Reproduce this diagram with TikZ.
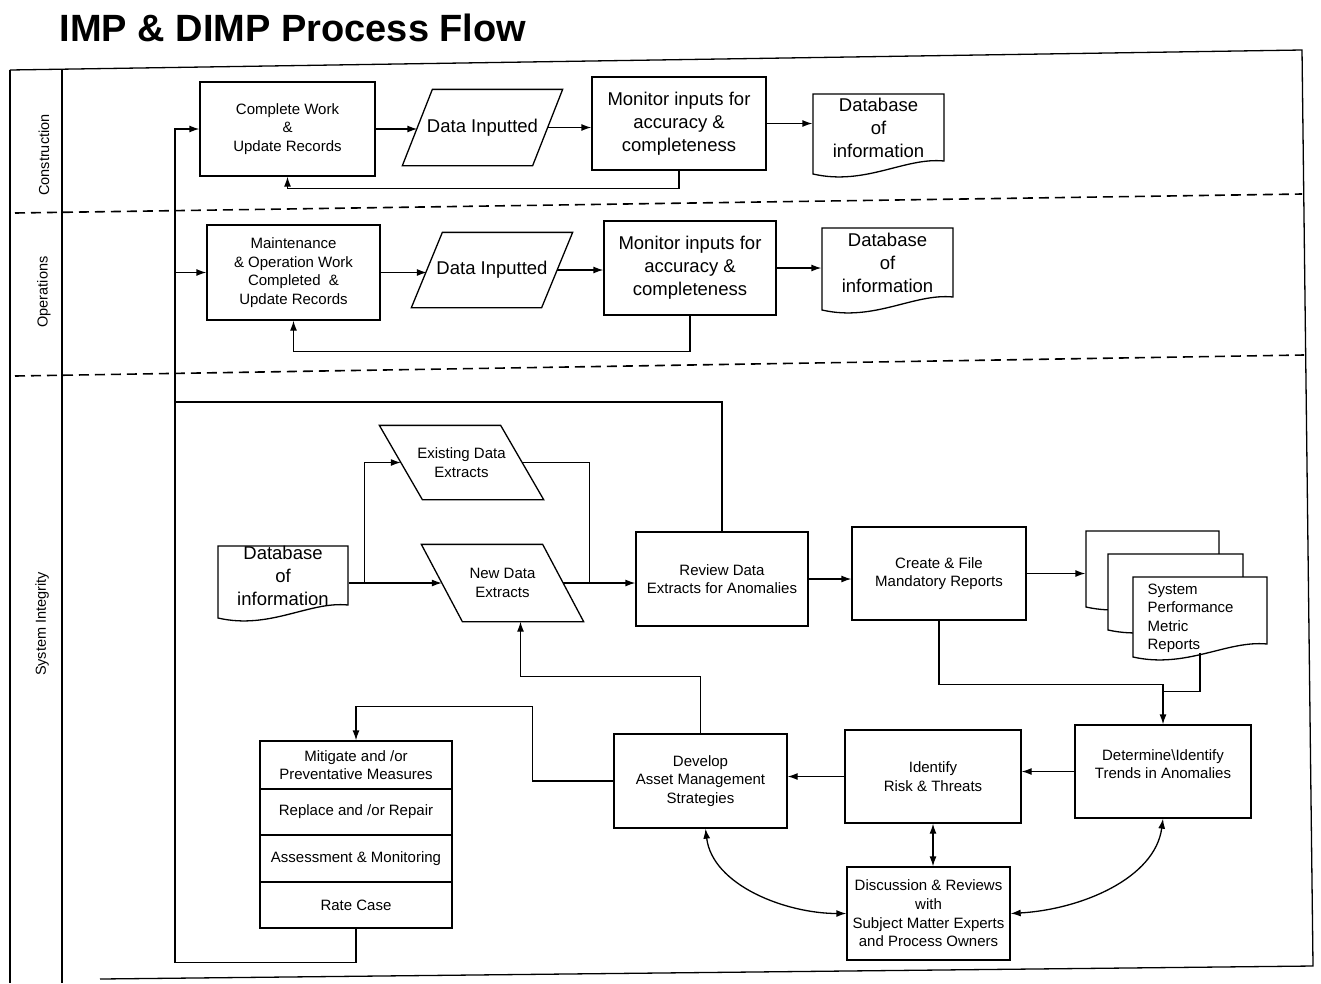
\documentclass[tikz,border=0pt]{standalone}
\usepackage{fontspec}
\setmainfont{Liberation Sans}
\usetikzlibrary{arrows.meta,calc}

% style, name, L, T, R, B, text
\newcommand\bx[7]{%
  \node[#1, minimum width={(#5-#3)*1pt}, minimum height={(#6-#4)*1pt}]
     (#2) at ({(#3+#5)/2},{(#4+#6)/2}) {#7};}
\newcommand\paraShape[2]{%
  \draw ($(#1.north west)+(#2,0)$) -- ($(#1.north east)+(#2,0)$) --
        ($(#1.south east)+({-1*(#2)},0)$) -- ($(#1.south west)+({-1*(#2)},0)$) -- cycle;}
% L T R B name style text
\newcommand\docShape[7]{%
  \draw[fill=white] (#1,#4) -- (#1,#2) -- (#3,#2) -- (#3,{#4-13})
     .. controls ({#3-0.3*(#3-#1)},{#4-17}) and ({#1+0.4*(#3-#1)},{#4+12}) .. (#1,#4) -- cycle;
  \bx{#6}{#5}{#1}{#2}{#3}{#4-12}{#7}}

\begin{document}
\begin{tikzpicture}[x=1pt,y=-1pt,line width=1.3pt,
  small/.style={font=\fontsize{15}{18.6}\selectfont},
  big/.style={font=\fontsize{18.5}{23}\selectfont},
  box/.style={draw, inner sep=0pt, align=center, small},
  bigbox/.style={box, big},
  ghost/.style={inner sep=0pt, align=center, small},
  bigghost/.style={ghost, big},
  arr/.style={-{Latex[length=10pt,width=7pt]}},
  dbl/.style={{Latex[length=10pt,width=7pt]}-{Latex[length=10pt,width=7pt]}},
  lanesep/.style={dash pattern=on 10pt off 6pt, line width=1.6pt},
  lanelbl/.style={rotate=90, inner sep=0pt, font=\fontsize{14.5}{17}\selectfont},
]
\useasboundingbox (0,0) rectangle (1321,983);

% title
\node[anchor=base west, inner sep=0pt, font=\bfseries\fontsize{38}{40}\selectfont] (title) at (59,41) {IMP \& DIMP Process Flow};

% frame and lanes
\draw (10,70) -- (1302,50) -- (1313,966) -- (100,979);
\draw (10,70) -- (10,983);
\draw (62,69) -- (62,983);
\draw[lanesep] (15,213) -- (1302,194);
\draw[lanesep] (15,376) -- (1304,355);
\node[lanelbl] (lc) at (44,155) {Construction};
\node[lanelbl] (lo) at (44,292) {Operations};
\node[lanelbl] (ls) at (42,624) {System Integrity};

% ---------------- Construction
\bx{box}{cw}{200}{82}{375}{176}{Complete Work\\\&\\Update Records}
\bx{bigghost}{di1}{418}{90}{547}{165}{Data Inputted}
\paraShape{di1}{15}
\bx{bigbox}{mon1}{592}{77}{766}{170}{Monitor inputs for\\accuracy \&\\completeness}
\docShape{813}{94}{944}{174}{db1}{bigghost}{Database\\of\\information}

\draw[arr] (cw.east) -- (cw.east -| di1.west);
\draw[arr] (di1.east) -- (di1.east -| mon1.west);
\draw[arr] (mon1.east) -- (mon1.east -| db1.west);
\draw[arr] (mon1.south) -- ++(0,18) -| (cw.south);

% ---------------- Operations
\bx{box}{mb}{207}{225}{380}{320}{Maintenance\\\& Operation Work\\Completed~~\&\\Update Records}
\bx{bigghost}{di2}{427.5}{233}{556.5}{307}{Data Inputted}
\paraShape{di2}{15.5}
\bx{bigbox}{mon2}{604}{221}{776}{315}{Monitor inputs for\\accuracy \&\\completeness}
\docShape{822}{228}{953}{310}{db2}{bigghost}{Database\\of\\information}

\draw[arr] (mb.east) -- (mb.east -| di2.west);
\draw[arr] (di2.east) -- (di2.east -| mon2.west);
\draw[arr] (mon2.east) -- (mon2.east -| db2.west);
\draw[arr] (mon2.south) -- ++(0,36) -| (mb.south);

% ---------------- System Integrity
\docShape{218}{546}{348}{618}{db3}{bigghost}{Database\\of\\information}
\bx{ghost}{ede}{401.5}{426}{521.5}{499}{Existing Data\\Extracts}
\paraShape{ede}{-21.5}
\bx{ghost}{nde}{442.5}{545}{562.5}{621}{New Data\\Extracts}
\paraShape{nde}{-20.5}
\bx{box}{rev}{636}{532}{808}{626}{Review Data\\Extracts for Anomalies}
\bx{box}{cf}{852}{527}{1026}{620}{Create \& File\\Mandatory Reports}
\docShape{1086}{531}{1219}{607}{rep1}{ghost}{}
\docShape{1108}{554}{1243}{630}{rep2}{ghost}{}
\docShape{1133}{577}{1267}{657}{rep3}{ghost}{}
\node[anchor=north west, align=left, inner sep=0pt, small] (rept) at (1147,583) {System\\Performance\\Metric\\Reports};

\bx{box}{det}{1075}{725}{1251}{818}{}
\node[ghost] (dett) at (1163,764) {Determine\textbackslash Identify\\Trends in Anomalies};
\bx{box}{idf}{845}{730}{1021}{823}{Identify\\Risk \& Threats}
\bx{box}{dev}{614}{734}{787}{828}{Develop\\Asset Management\\Strategies}
\bx{box}{dis}{847}{867}{1010}{960}{Discussion \& Reviews\\with\\Subject Matter Experts\\and Process Owners}

\bx{box}{mit}{260}{741}{452}{789}{Mitigate and /or\\Preventative Measures}
\bx{box}{repl}{260}{789}{452}{835}{Replace and /or Repair}
\bx{box}{asm}{260}{835}{452}{882}{Assessment \& Monitoring}
\bx{box}{rc}{260}{882}{452}{928}{Rate Case}

% bus on the left
\coordinate (busT) at (175,402);
\draw[arr] (rc.south) -- ++(0,34) -| (cw.west -| busT) -- (cw.west);
\draw[arr] (mb.west -| busT) -- (mb.west);
\draw (rev.north) |- (busT);

% data extraction
\coordinate (split) at ($(db3.east |- nde.west)+(16,0)$);
\coordinate (join) at ($(nde.east -| rev.west)+(-46,0)$);
\draw[arr] (db3.east |- nde.west) -- (nde.west);
\draw[arr] (split) |- (ede.west);
\draw (ede.east) -| (join);
\draw[arr] (nde.east) -- (nde.east -| rev.west);
\draw[arr] (rev.east) -- (rev.east -| cf.west);
\draw[arr] (cf.east) -- (cf.east -| rep1.west);
\draw[arr] (cf.south) |- ($(det.north)+(0,-40)$) -- (det.north);
\draw ($(rep3.south)+(0,7)$) |- ($(det.north)+(0,-33)$);

\draw[arr] (det.west) -- (det.west -| idf.east);
\draw[arr] (idf.west) -- (idf.west -| dev.east);
\draw[arr] (dev.north) -- ++(0,-57) -| ($(nde.south)+(18,0)$);
\draw[arr] (dev.west) -- ++(-81,0) |- ($(mit.north)+(0,-34)$) -- (mit.north);

\draw[dbl] (idf.south) -- (idf.south |- dis.north);
\draw[dbl] ($(dev.south)+(5,0)$) .. controls ($(dev.south)+(12,57)$) and ($(dis.west)+(-60,0)$) .. (dis.west);
\draw[dbl] (det.south) .. controls ($(det.south)+(-8,60)$) and ($(dis.east)+(70,-4)$) .. (dis.east);
\end{tikzpicture}
\end{document}
